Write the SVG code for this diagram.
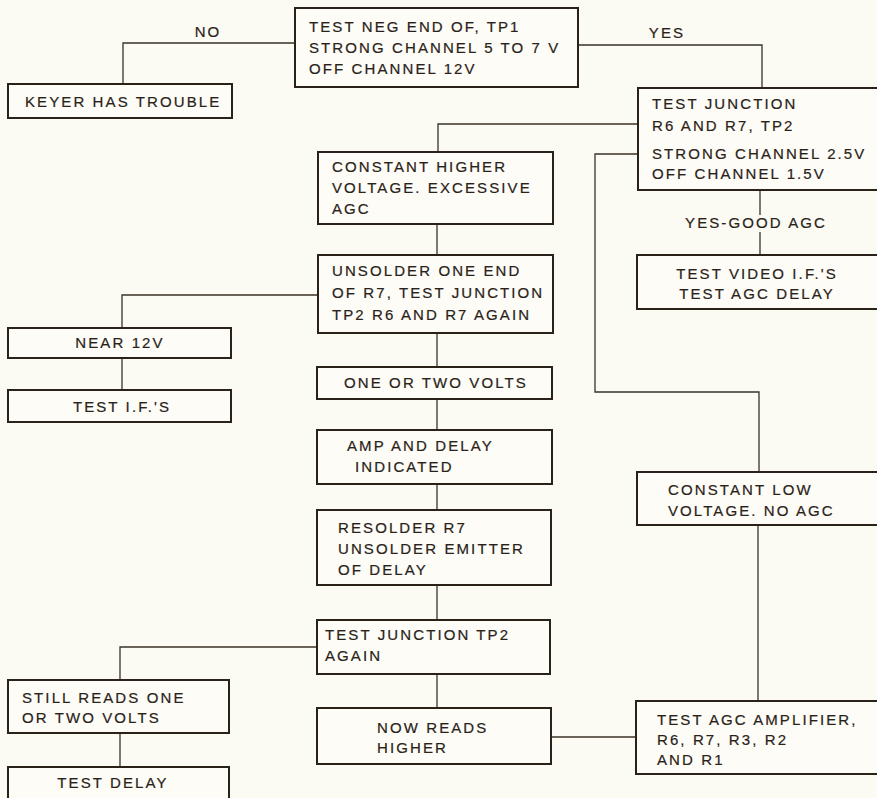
<svg xmlns="http://www.w3.org/2000/svg" width="877" height="798" viewBox="0 0 877 798">
<style>
.bg{fill:#fbfaf3}
.box{fill:#fdfcf7;stroke:#2a2218;stroke-width:2}
.ln{fill:none;stroke:#3a3226;stroke-width:1.3}
text{font-family:"Liberation Sans",Arial,sans-serif;font-size:15px;letter-spacing:2.1px;fill:#2a2218;stroke:#2a2218;stroke-width:0.2}
.c{text-anchor:middle}
</style>
<rect class="bg" x="0" y="0" width="877" height="798"/>
<g id="connectors">
<path class="ln" d="M295,43 H123 V84"/>
<path class="ln" d="M578,45 H762 V88"/>
<path class="ln" d="M638,124 H438 V152"/>
<path class="ln" d="M638,154 H595 V392 H759 V472"/>
<path class="ln" d="M760,190 V215 M760,232 V255"/>
<path class="ln" d="M437,224 V255"/>
<path class="ln" d="M318,295 H122 V328"/>
<path class="ln" d="M122,358 V390"/>
<path class="ln" d="M437,333 V367"/>
<path class="ln" d="M437,399 V430"/>
<path class="ln" d="M437,484 V510"/>
<path class="ln" d="M437,585 V620"/>
<path class="ln" d="M317,647 H120 V680"/>
<path class="ln" d="M120,733 V767"/>
<path class="ln" d="M437,674 V708"/>
<path class="ln" d="M551,737 H636"/>
<path class="ln" d="M758,525 V701"/>
<text x="208" y="37" class="c">NO</text>
<text x="667" y="38" class="c">YES</text>
<text x="756" y="228" class="c">YES-GOOD AGC</text>
</g>
<g id="n-top">
<rect class="box" x="295" y="8" width="283" height="79"/>
<text x="309" y="32">TEST NEG END OF, TP1</text>
<text x="309" y="53">STRONG CHANNEL 5 TO 7 V</text>
<text x="309" y="74">OFF CHANNEL 12V</text>
</g>
<g id="n-keyer">
<rect class="box" x="8" y="84" width="224" height="34"/>
<text x="25" y="107">KEYER HAS TROUBLE</text>
</g>
<g id="n-tj">
<rect class="box" x="638" y="88" width="250" height="102"/>
<text x="652" y="109">TEST JUNCTION</text>
<text x="652" y="131">R6 AND R7, TP2</text>
<text x="652" y="159">STRONG CHANNEL 2.5V</text>
<text x="652" y="179">OFF CHANNEL 1.5V</text>
</g>
<g id="n-ch">
<rect class="box" x="318" y="152" width="235" height="72"/>
<text x="332" y="172">CONSTANT HIGHER</text>
<text x="332" y="193">VOLTAGE.  EXCESSIVE</text>
<text x="332" y="214">AGC</text>
</g>
<g id="n-tv">
<rect class="box" x="637" y="255" width="250" height="54"/>
<text x="757" y="279" class="c">TEST VIDEO I.F.'S</text>
<text x="757" y="299" class="c">TEST AGC DELAY</text>
</g>
<g id="n-un">
<rect class="box" x="318" y="255" width="235" height="78"/>
<text x="332" y="276">UNSOLDER ONE END</text>
<text x="332" y="298">OF R7, TEST JUNCTION</text>
<text x="332" y="320">TP2 R6 AND R7 AGAIN</text>
</g>
<g id="n-near">
<rect class="box" x="8" y="328" width="223" height="30"/>
<text x="120" y="348" class="c">NEAR 12V</text>
</g>
<g id="n-one">
<rect class="box" x="317" y="367" width="235" height="32"/>
<text x="436" y="388" class="c">ONE OR TWO VOLTS</text>
</g>
<g id="n-tif">
<rect class="box" x="8" y="390" width="223" height="32"/>
<text x="122" y="412" class="c">TEST I.F.'S</text>
</g>
<g id="n-amp">
<rect class="box" x="317" y="430" width="235" height="54"/>
<text x="347" y="451">AMP AND DELAY</text>
<text x="355" y="472">INDICATED</text>
</g>
<g id="n-cl">
<rect class="box" x="637" y="472" width="250" height="53"/>
<text x="668" y="495">CONSTANT LOW</text>
<text x="668" y="516">VOLTAGE.  NO AGC</text>
</g>
<g id="n-res">
<rect class="box" x="317" y="510" width="234" height="75"/>
<text x="338" y="533">RESOLDER R7</text>
<text x="338" y="554">UNSOLDER EMITTER</text>
<text x="338" y="575">OF DELAY</text>
</g>
<g id="n-tj2">
<rect class="box" x="317" y="620" width="233" height="54"/>
<text x="325" y="640">TEST JUNCTION TP2</text>
<text x="325" y="661">AGAIN</text>
</g>
<g id="n-still">
<rect class="box" x="8" y="680" width="221" height="53"/>
<text x="22" y="703">STILL READS ONE</text>
<text x="22" y="723">OR TWO VOLTS</text>
</g>
<g id="n-agc">
<rect class="box" x="636" y="701" width="251" height="73"/>
<text x="657" y="725">TEST AGC AMPLIFIER,</text>
<text x="657" y="745">R6, R7, R3, R2</text>
<text x="657" y="765">AND R1</text>
</g>
<g id="n-now">
<rect class="box" x="317" y="708" width="234" height="56"/>
<text x="377" y="733">NOW READS</text>
<text x="377" y="753">HIGHER</text>
</g>
<g id="n-delay">
<rect class="box" x="8" y="767" width="221" height="40"/>
<text x="113" y="788" class="c">TEST DELAY</text>
</g>
</svg>
